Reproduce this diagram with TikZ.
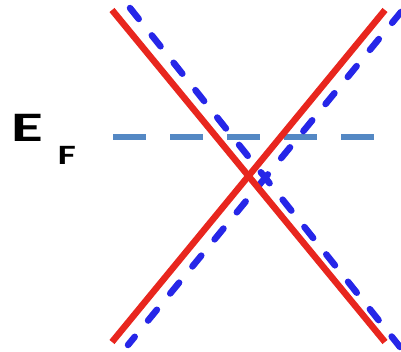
\documentclass[tikz,border=0pt]{standalone}
\usepackage{fontspec}
\setmainfont{Carlito}
\usepackage{tikz}
\definecolor{bandred}{RGB}{232,38,30}
\definecolor{bandblue}{RGB}{38,38,232}
\definecolor{fermiblue}{RGB}{84,136,196}
\tikzset{
  redband/.style={draw=bandred, line width=6.5pt},
  blueband/.style={draw=bandblue, line width=6.5pt, line cap=round, dash pattern=on 14pt off 21pt},
  fermiline/.style={draw=fermiblue, line width=5.5pt, dash pattern=on 33pt off 24pt},
}
\newcommand{\bandend}[2] {\coordinate (#2) at (#1);}
\newcommand{\band}[3] {\draw [#3] (#1) -- (#2);}

\begin{document}
\begin{tikzpicture}[x=1pt, y=-1pt]
\useasboundingbox (0,0) rectangle (401,352);
\bandend {113,137} {fl}
\bandend {377,137} {fr}
\bandend {130,8} {btl}
\bandend {400,347} {bbr}
\bandend {401,12} {btr}
\bandend {128,345} {bbl}
\bandend {112,10} {rtl}
\bandend {385,342} {rbr}
\bandend {385,10} {rtr}
\bandend {112,342} {rbl}

\band {fl}{fr}{fermiline};
\band {btl}{bbr}{blueband};
\band {btr}{bbl}{blueband};
\band {rtl}{rbr}{redband};
\band {rtr}{rbl}{redband};

\node [anchor=base west, inner sep=0pt] (ef) at (11,142)
  {\bfseries\scalebox{1.55}[1]{\fontsize{42}{42}\selectfont E}\hspace{15pt}\raisebox{-23pt}{\scalebox{1.4}[1]{\fontsize{28}{28}\selectfont F}}};
\end{tikzpicture}
\end{document}
